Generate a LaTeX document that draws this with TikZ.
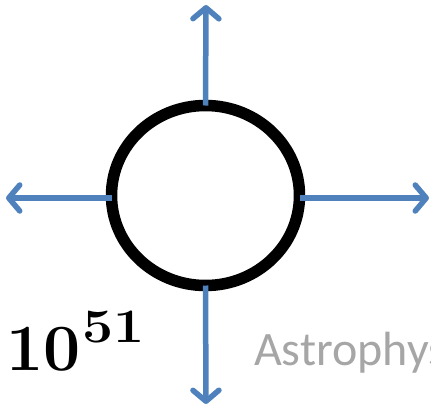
\documentclass[tikz,border=0pt]{standalone}
\usepackage{fontspec}
\usepackage{tikz}
\usetikzlibrary{arrows.meta, shapes.geometric}
\newfontfamily\calibfont{Carlito}
\definecolor{rayblue}{HTML}{4F81BD}
\definecolor{faintgray}{HTML}{A6A6A6}

\begin{document}
\begin{tikzpicture}[
      x=1pt, y=-1pt,
      ball/.style={draw, ellipse, line width=11.5pt, minimum width=188pt, minimum height=180pt, inner sep=0pt, outer sep=0pt},
      ray/.style={draw=rayblue, line width=5.5pt, -{Straight Barb[length=11pt, width=26pt, line cap=round, line join=round]}}
    ]
    \clip (0,0) rectangle (431,410);
    \node[ball] (star) at (205.5,195.5) {};
    \coordinate (up) at (206,5);
    \coordinate (down) at (206,404);
    \coordinate (left) at (6,198);
    \coordinate (right) at (429,198);

    \draw[ray] (star.north) -- (up);
    \draw[ray] (star.south) -- (down);
    \draw[ray] (star.west |- left) -- (left);
    \draw[ray] (star.east |- right) -- (right);

    \node[anchor=base west, inner sep=0pt, font=\bfseries\fontsize{66}{66}\selectfont] (energy) at (6,370) {10\hspace{2pt}\raisebox{0.41em}{\scalebox{1.15}[1]{\fontsize{48}{48}\selectfont 51}}};
    \node[anchor=base west, inner sep=0pt, text=faintgray, font=\calibfont\fontsize{48}{48}\selectfont] (field) at (254,365) {Astrophys};
  \end{tikzpicture}
\end{document}
